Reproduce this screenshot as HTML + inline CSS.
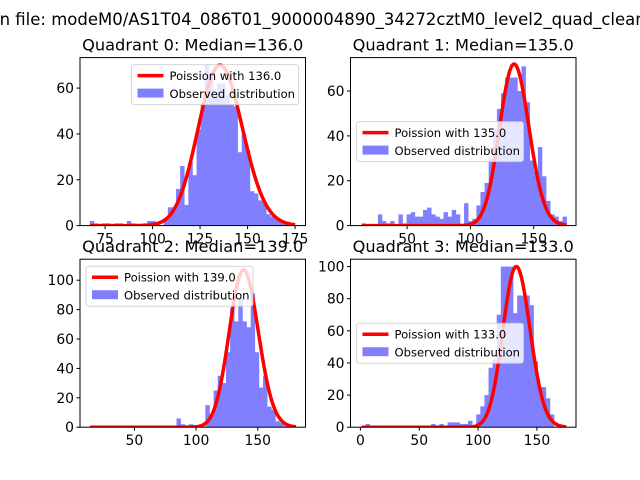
<!DOCTYPE html>
<html><head><meta charset="utf-8"><style>
html,body{margin:0;padding:0;background:#fff;}
svg{display:block;font-family:"DejaVu Sans","Liberation Sans",sans-serif;}
</style></head><body>
<svg id="fig" width="640" height="480" viewBox="0 0 640 480">
<text x="-5" y="25" font-size="16.5" fill="#000">in file: modeM0/AS1T04_086T01_9000004890_34272cztM0_level2_quad_clean.evt</text>
</svg>
<script>
// ---- data ----
const medians = [136, 135, 139, 133];
const binLo = [67, 14, 14, 1];
const binHi = [175, 176, 181, 175];
const q0Counts = [2,1,0,1,1,0,1,1,0,2,1,0,0,1,2,2,1,0,3,8,8,16,26,9,28,22,42,53,70,64,58,62,62,57,53,52,32,40,33,15,14,11,10,5,4,3,2,1,1,0];
const q1Counts = [1,0,0,0,5,2,1,2,0,5,1,5,6,4,4,7,8,5,4,3,6,4,7,5,0,10,2,3,9,15,19,30,43,52,59,66,66,66,60,71,55,29,24,35,22,11,5,4,2,4];
const q2Counts = [0,0,0,0,0,0,0,0,0,1,0,0,1,0,0,0,0,0,0,0,0,6,2,0,2,1,0,0,15,8,25,35,30,51,81,72,88,72,68,91,51,27,35,14,12,4,3,1,1,0];
const q3Counts = [0,2,0,0,0,0,0,0,0,0,0,0,0,0,0,0,0,2,0,2,0,3,3,3,2,2,4,0,8,13,20,37,42,70,100,100,100,71,82,82,82,76,41,25,25,18,8,0,0,0];
const curvePeaks = [70, 72, 107, 100];
const xMin = [61.8, 5.3, 5.9, -8.4];
const xMax = [180.5, 183.4, 188.7, 183.2];
const yMax = [73.3, 74.9, 114.3, 104.6];
const xTicks = [[75,100,125,150,175],[50,100,150],[50,100,150],[0,50,100,150]];
const yTicks = [[0,20,40,60],[0,20,40,60],[0,20,40,60,80,100],[0,20,40,60,80,100]];
const legendLoc = ['upper right','center left','upper left','center left'];

const allCounts = [q0Counts, q1Counts, q2Counts, q3Counts];
const NS = 'http://www.w3.org/2000/svg';
const svg = document.getElementById('fig');
function mk(tag, attrs, parent){
  const e = document.createElementNS(NS, tag);
  for (const k in attrs) e.setAttribute(k, attrs[k]);
  (parent||svg).appendChild(e);
  return e;
}
function lgamma(n){ let s=0; for(let i=2;i<=n;i++) s+=Math.log(i); return s; }
function logpmf(k, mu){ return k*Math.log(mu) - mu - lgamma(k); }

const W = 225.5, H = 168;
const lefts = [80, 350.5, 80, 350.5];
const tops = [57.6, 57.6, 259.2, 259.2];

for (let q=0; q<4; q++){
  const L = lefts[q], T = tops[q];
  const sx = v => L + (v - xMin[q]) / (xMax[q] - xMin[q]) * W;
  const sy = v => T + H - v / yMax[q] * H;
  const g = mk('g', {});
  
  
  const clipId = 'clip' + q;
  const cp = mk('clipPath', {id: clipId}, g);
  mk('rect', {x: L, y: T, width: W, height: H}, cp);
  // bars
  const counts = allCounts[q];
  const nb = counts.length;
  const bw = (binHi[q] - binLo[q]) / nb;
  const bars = mk('g', {'clip-path': 'url(#' + clipId + ')'}, g);
  for (let i=0;i<nb;i++){
    if (!counts[i]) continue;
    const x0 = sx(binLo[q] + i*bw), x1 = sx(binLo[q] + (i+1)*bw);
    const r = mk('rect', {x: x0, y: sy(counts[i]), width: x1 - x0 + 0.3, height: sy(0) - sy(counts[i]), fill: '#8080ff'}, bars);
    
    
  }
  // poisson curve
  const mu = medians[q];
  const modeLog = logpmf(Math.floor(mu), mu);
  let d = '';
  for (let k=Math.ceil(binLo[q]); k<=Math.floor(binHi[q]); k++){
    const v = curvePeaks[q] * Math.exp(logpmf(k, mu) - modeLog);
    d += (d ? 'L' : 'M') + sx(k).toFixed(2) + ',' + sy(v).toFixed(2);
  }
  const curve = mk('path', {d: d, fill: 'none', stroke: '#ff0000', 'stroke-width': 3.5, 'stroke-linejoin': 'round', 'clip-path': 'url(#' + clipId + ')'}, g);
  
  
  // frame
  const fr = mk('rect', {x: L, y: T, width: W, height: H, fill: 'none', stroke: '#000', 'stroke-width': 1}, g);
  
  
  // ticks
  xTicks[q].forEach(t => {
    const x = sx(t);
    mk('line', {x1: x, x2: x, y1: T+H, y2: T+H+3.5, stroke: '#000'}, g);
    const tx = mk('text', {x: x, y: T+H+18, 'font-size': 13.9, 'text-anchor': 'middle'}, g);
    tx.textContent = t;
    
    
  });
  yTicks[q].forEach(t => {
    const y = sy(t);
    mk('line', {x1: L-3.5, x2: L, y1: y, y2: y, stroke: '#000'}, g);
    const tx = mk('text', {x: L-6, y: y+5, 'font-size': 13.9, 'text-anchor': 'end'}, g);
    tx.textContent = t;
    
    
  });
  // title
  const ti = mk('text', {x: L + W/2, y: T - 7, 'font-size': 16.2, 'text-anchor': 'middle'}, g);
  ti.textContent = 'Quadrant ' + q + ': Median=' + mu.toFixed(1);
  
  
  // legend
  const lw = 167, lh = 40;
  let lx, ly;
  if (legendLoc[q] === 'upper right'){ lx = L + W - lw - 7; ly = T + 7; }
  else if (legendLoc[q] === 'upper left'){ lx = L + 6; ly = T + 7; }
  else { lx = L + 6; ly = T + H/2 - lh/2; }
  const lg = mk('g', {}, g);
  
  
  mk('rect', {x: lx, y: ly, width: lw, height: lh, rx: 2.5, fill: '#fff', 'fill-opacity': 0.8, stroke: '#ccc', 'stroke-opacity': 0.8}, lg);
  mk('line', {x1: lx+6, x2: lx+32, y1: ly+11, y2: ly+11, stroke: '#ff0000', 'stroke-width': 3.5}, lg);
  const t1 = mk('text', {x: lx+38, y: ly+15.5, 'font-size': 11.6}, lg);
  t1.textContent = 'Poission with ' + mu.toFixed(1);
  
  
  mk('rect', {x: lx+6, y: ly+24, width: 26, height: 9, fill: '#8080ff'}, lg);
  const t2 = mk('text', {x: lx+38, y: ly+33.5, 'font-size': 11.6}, lg);
  t2.textContent = 'Observed distribution';
  
  
}
</script>
</body></html>
